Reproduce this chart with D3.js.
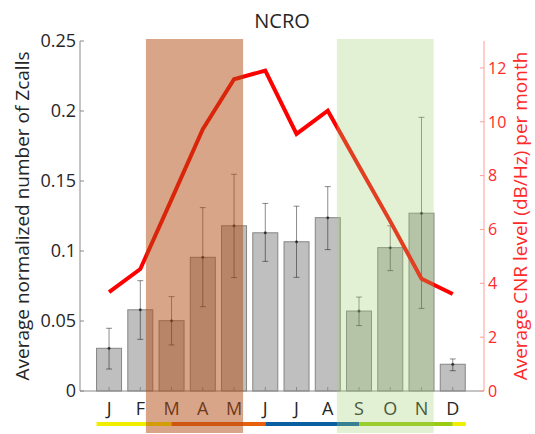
<!DOCTYPE html>
<html>
<head>
<meta charset="utf-8">
<script src="https://cdn.jsdelivr.net/npm/d3@7"></script>
<style>
  html, body { margin: 0; padding: 0; background: #fff; }
  svg { display: block; font-family: "Open Sans", "DejaVu Sans", sans-serif; }
</style>
</head>
<body>
<svg id="chart" width="535" height="434"></svg>
<script>
// Monthly data for the NCRO site
const months = ["J", "F", "M", "A", "M", "J", "J", "A", "S", "O", "N", "D"];
const zcalls = [0.0305, 0.058, 0.0502, 0.0955, 0.118, 0.113, 0.1066, 0.1238, 0.0571, 0.1024, 0.127, 0.0191];
const zcallsLow = [0.0157, 0.0369, 0.0329, 0.0602, 0.081, 0.0926, 0.0812, 0.101, 0.0467, 0.086, 0.059, 0.0145];
const zcallsHigh = [0.0448, 0.0788, 0.0674, 0.131, 0.1548, 0.134, 0.132, 0.146, 0.0671, 0.118, 0.1955, 0.0229];
const cnr = [3.67, 4.53, 7.12, 9.72, 11.58, 11.9, 9.55, 10.41, 8.35, 6.3, 4.17, 3.6];
const leftTicks = [0, 0.05, 0.1, 0.15, 0.2, 0.25];
const rightTicks = [0, 2, 4, 6, 8, 10, 12];
// Shaded periods (in month units) and season strip segments
const periods = [
  { from: 2.18, to: 5.29, color: "rgb(179,75,19)", opacity: 0.5 },
  { from: 8.29, to: 11.39, color: "rgb(158,205,112)", opacity: 0.3 }
];
const seasons = [
  { from: 0.6, to: 3.0, color: "#f2ee00" },
  { from: 3.0, to: 6.0, color: "#e8600c" },
  { from: 6.0, to: 9.0, color: "#0a5fa0" },
  { from: 9.0, to: 12.0, color: "#9acd12" },
  { from: 12.0, to: 12.42, color: "#f2ee00" }
];

const svg = d3.select("#chart");
const plotL = 80, plotR = 484, plotT = 41, plotB = 391;

const x = d3.scaleLinear().domain([0.07, 13]).range([plotL, plotR]);
const y = d3.scaleLinear().domain([0, 0.25]).range([plotB, plotT]);
const y2 = d3.scaleLinear().domain([0, 13]).range([plotB, plotT]);
const barW = x(0.8) - x(0);

// Bars
svg.append("g").selectAll("rect").data(zcalls).join("rect")
  .attr("x", (d, i) => x(i + 1) - barW / 2)
  .attr("y", d => y(d))
  .attr("width", barW)
  .attr("height", d => y(0) - y(d))
  .attr("fill", "#bfbfbf")
  .attr("stroke", "#858585")
  .attr("stroke-width", 1);

// Error bars
const eb = svg.append("g").attr("stroke", "rgba(0,0,0,0.45)").attr("stroke-width", 1);
zcalls.forEach((v, i) => {
  const cx = x(i + 1);
  eb.append("line").attr("x1", cx).attr("x2", cx).attr("y1", y(zcallsLow[i])).attr("y2", y(zcallsHigh[i]));
  eb.append("line").attr("x1", cx - 3).attr("x2", cx + 3).attr("y1", y(zcallsLow[i])).attr("y2", y(zcallsLow[i]));
  eb.append("line").attr("x1", cx - 3).attr("x2", cx + 3).attr("y1", y(zcallsHigh[i])).attr("y2", y(zcallsHigh[i]));
  svg.append("circle").attr("cx", cx).attr("cy", y(v)).attr("r", 1.5).attr("fill", "rgba(0,0,0,0.6)");
});

// Left axis
const gl = svg.append("g").attr("transform", `translate(${plotL},0)`);
gl.append("line").attr("y1", plotT).attr("y2", plotB).attr("stroke", "#8a8a8a");
gl.selectAll("line.t").data(leftTicks).join("line").attr("class", "t")
  .attr("x1", 0).attr("x2", 4).attr("y1", d => y(d)).attr("y2", d => y(d)).attr("stroke", "#8a8a8a");
gl.selectAll("text").data(leftTicks).join("text")
  .attr("x", -4).attr("y", d => y(d)).attr("dy", "0.36em")
  .attr("text-anchor", "end").attr("font-size", 18).attr("fill", "#262626")
  .text(d => d3.format("")(d));

// Bottom axis
const gb = svg.append("g");
gb.append("line").attr("x1", plotL).attr("x2", plotR).attr("y1", plotB).attr("y2", plotB).attr("stroke", "#8a8a8a");
gb.selectAll("line.t").data(months).join("line").attr("class", "t")
  .attr("x1", (d, i) => x(i + 1)).attr("x2", (d, i) => x(i + 1))
  .attr("y1", plotB).attr("y2", plotB - 4).attr("stroke", "#8a8a8a");
gb.selectAll("text").data(months).join("text")
  .attr("x", (d, i) => x(i + 1)).attr("y", 415)
  .attr("text-anchor", "middle").attr("font-size", 18).attr("fill", "#262626")
  .text(d => d);

// Right axis
const gr = svg.append("g").attr("transform", `translate(${plotR},0)`);
gr.append("line").attr("y1", plotT).attr("y2", plotB).attr("stroke", "#ff9a9a");
gr.selectAll("line.t").data(rightTicks).join("line").attr("class", "t")
  .attr("x1", 0).attr("x2", -4).attr("y1", d => y2(d)).attr("y2", d => y2(d)).attr("stroke", "#ff9a9a");
gr.selectAll("text").data(rightTicks).join("text")
  .attr("x", 4).attr("y", d => y2(d)).attr("dy", "0.36em")
  .attr("text-anchor", "start").attr("font-size", 16).attr("fill", "#ff2a2a")
  .text(d => d);

// CNR line
svg.append("path").datum(cnr)
  .attr("d", d3.line().x((d, i) => x(i + 1)).y(d => y2(d)))
  .attr("fill", "none").attr("stroke", "#ff0000").attr("stroke-width", 4)
  .attr("stroke-linejoin", "miter");

// Season strip
svg.append("g").selectAll("line").data(seasons).join("line")
  .attr("x1", d => x(d.from)).attr("x2", d => x(d.to))
  .attr("y1", 424).attr("y2", 424)
  .attr("stroke", d => d.color).attr("stroke-width", 4);

// Shaded periods
svg.append("g").selectAll("rect").data(periods).join("rect")
  .attr("x", d => x(d.from)).attr("width", d => x(d.to) - x(d.from))
  .attr("y", 39).attr("height", 394)
  .attr("fill", d => d.color).attr("fill-opacity", d => d.opacity);

// Titles
svg.append("text").attr("x", (plotL + plotR) / 2).attr("y", 28).attr("text-anchor", "middle")
  .attr("font-size", 20).attr("fill", "#262626").text("NCRO");
svg.append("text").attr("transform", `translate(29,${(plotT + plotB) / 2}) rotate(-90)`)
  .attr("text-anchor", "middle").attr("font-size", 19).attr("fill", "#262626")
  .text("Average normalized number of Zcalls");
svg.append("text").attr("transform", `translate(527,${(plotT + plotB) / 2}) rotate(-90)`)
  .attr("text-anchor", "middle").attr("font-size", 19).attr("fill", "#ff2a2a")
  .text("Average CNR level (dB/Hz) per month");
</script>
</body>
</html>
